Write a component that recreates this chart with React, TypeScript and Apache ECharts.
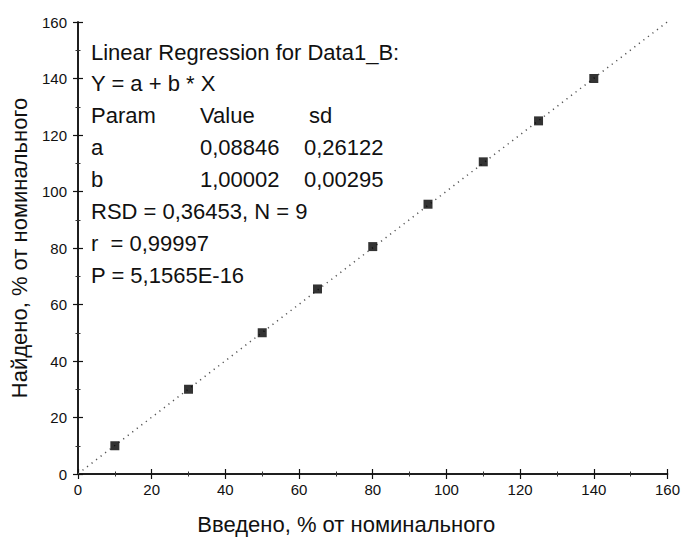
import React, { useEffect, useRef } from "react";
import * as echarts from "echarts";

const introduced = [10, 30, 50, 65, 80, 95, 110, 125, 140];
const found = [10, 30, 50, 65.5, 80.5, 95.5, 110.5, 125, 140];
const regX = [0, 160];
const regY = [0.09, 160.09];
const tickValues = [0, 20, 40, 60, 80, 100, 120, 140, 160];

const annotationRows: string[][] = [
  ["Linear Regression for Data1_B:"],
  ["Y = a + b * X"],
  ["Param", "Value", "sd"],
  ["a", "0,08846", "0,26122"],
  ["b", "1,00002", "0,00295"],
  ["RSD = 0,36453, N = 9"],
  ["r  = 0,99997"],
  ["P = 5,1565E-16"],
];

const FONT = "'Liberation Sans', Arial, sans-serif";

export default function App() {
  const ref = useRef<HTMLDivElement>(null);
  useEffect(() => {
    if (!ref.current) return;
    const chart = echarts.init(ref.current, undefined, { renderer: "svg" });
    const colX = [91, 200, 304];
    const headerX = [91, 200, 309];
    const graphics: any[] = [];
    annotationRows.forEach((row, i) => {
      row.forEach((t, j) => {
        graphics.push({
          type: "text",
          x: i === 2 ? headerX[j] : colX[j],
          y: 52 + i * 31.9,
          style: {
            text: t,
            font: `22px ${FONT}`,
            fill: "#111",
            textVerticalAlign: "middle",
            verticalAlign: "middle",
          },
        });
      });
    });
    const axisCommon = {
      type: "value",
      min: 0,
      max: 160,
      interval: 20,
      axisLine: { show: true, lineStyle: { color: "#111", width: 1.5 } },
      axisTick: { show: true, inside: true, length: 5, lineStyle: { color: "#111", width: 1.2 } },
      minorTick: { show: true, splitNumber: 2, length: 2.5, lineStyle: { color: "#333", width: 1 } },
      splitLine: { show: false },
    };
    chart.setOption({
      animation: false,
      backgroundColor: "#fff",
      grid: { left: 77, top: 22, right: 12, bottom: 65, containLabel: false },
      xAxis: [
        {
          ...axisCommon,
          position: "bottom",
          name: "Введено, % от номинального",
          nameLocation: "middle",
          nameGap: 39,
          nameTextStyle: { fontFamily: FONT, fontSize: 22, color: "#111", padding: [0, 53, 0, 0] },
          axisLabel: {
            fontFamily: FONT,
            fontSize: 15,
            color: "#111",
            margin: 8,
            formatter: (v: number) => (tickValues.includes(v) ? String(v) : ""),
          },
        },
        { ...axisCommon, position: "top", axisLabel: { show: false } },
      ],
      yAxis: [
        {
          ...axisCommon,
          position: "left",
          name: "Найдено, % от номинального",
          nameLocation: "middle",
          nameGap: 48,
          nameTextStyle: { fontFamily: FONT, fontSize: 22, color: "#111" },
          axisLabel: { fontFamily: FONT, fontSize: 15, color: "#111", margin: 11 },
        },
        { ...axisCommon, position: "right", axisLabel: { show: false } },
      ],
      series: [
        {
          type: "line",
          data: regX.map((x, i) => [x, regY[i]]),
          showSymbol: false,
          symbol: "none",
          lineStyle: { color: "#555", width: 1.5, type: [1.2, 4.5] },
          clip: true,
          z: 1,
        },
        {
          type: "scatter",
          data: introduced.map((x, i) => [x, found[i]]),
          symbol: "rect",
          symbolSize: 9,
          itemStyle: { color: "#000" },
          z: 3,
        },
      ],
      graphic: graphics,
    });
    return () => chart.dispose();
  }, []);
  return (
    <div
      ref={ref}
      style={{ position: "fixed", left: 0, top: 0, width: 683, height: 540, background: "#fff" }}
    />
  );
}
